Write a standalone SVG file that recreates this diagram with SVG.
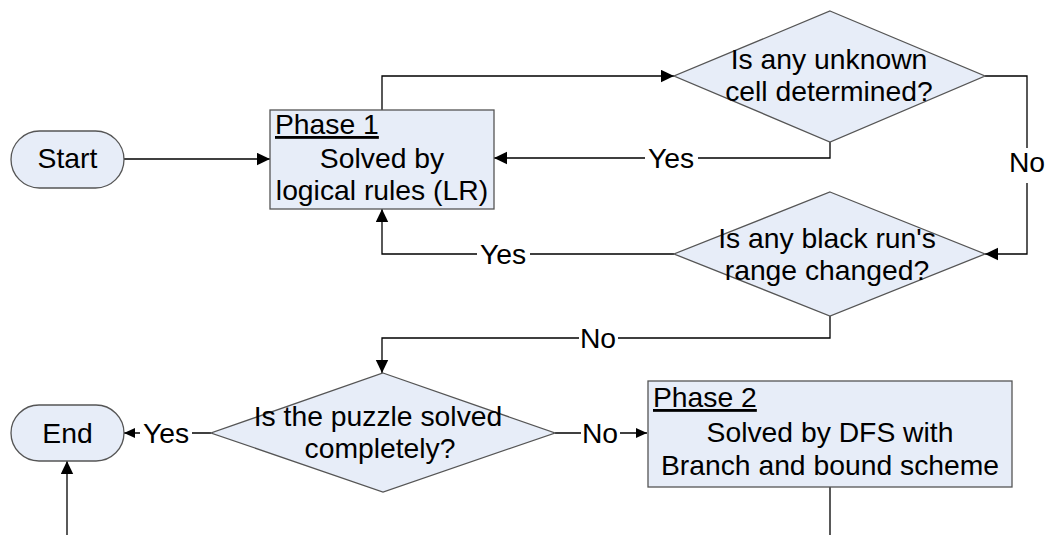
<svg xmlns="http://www.w3.org/2000/svg" width="1047" height="535" viewBox="0 0 1047 535">
<style>
.shape{fill:#e7edf8;stroke:#555;stroke-width:1.3}
.t{font-family:"Liberation Sans",Arial,sans-serif;font-size:28.3px;fill:#000}
.c{text-anchor:middle}
.u{text-decoration:underline}
.line{fill:none;stroke:#000;stroke-width:1.3}
.bg{fill:#fff;stroke:none}
</style>
<defs>
<marker id="arr" markerUnits="userSpaceOnUse" markerWidth="14" markerHeight="14" refX="13" refY="6.5" orient="auto">
<path d="M0,0.3 L13,6.5 L0,12.7 z" fill="#000"/>
</marker>
<marker id="arrs" markerUnits="userSpaceOnUse" markerWidth="12" markerHeight="11" refX="11" refY="5" orient="auto">
<path d="M0,0 L11,5 L0,10 z" fill="#000"/>
</marker>
</defs>
<rect width="1047" height="535" fill="#fff"/>
<g id="connectors">
<path class="line" d="M124,159 H270" marker-end="url(#arr)"/>
<path class="line" d="M382,110 V76 H674" marker-end="url(#arr)"/>
<path class="line" d="M830,142 V158 H494" marker-end="url(#arr)"/>
<path class="line" d="M985,76 H1027 V254 H985" marker-end="url(#arr)"/>
<path class="line" d="M674,254 H382 V209" marker-end="url(#arr)"/>
<path class="line" d="M830,316 V338 H382 V373" marker-end="url(#arr)"/>
<path class="line" d="M211,433 H124" marker-end="url(#arrs)"/>
<path class="line" d="M555,433 H647" marker-end="url(#arrs)"/>
<path class="line" d="M830,487 V535"/>
<path class="line" d="M67,535 V461" marker-end="url(#arr)"/>
<rect class="bg" x="645" y="144" width="53" height="28"/>
<text class="t c" x="671" y="168">Yes</text>
<rect class="bg" x="1011" y="148" width="34" height="35"/>
<text class="t c" x="1027" y="172">No</text>
<rect class="bg" x="477" y="240" width="53" height="28"/>
<text class="t c" x="503" y="264">Yes</text>
<rect class="bg" x="579" y="324" width="39" height="28"/>
<text class="t c" x="598" y="348">No</text>
<rect class="bg" x="140" y="419" width="52" height="28"/>
<text class="t c" x="166" y="443">Yes</text>
<rect class="bg" x="581" y="419" width="39" height="28"/>
<text class="t c" x="600" y="443">No</text>
</g>
<g id="start">
<rect class="shape" x="11" y="131" width="113" height="57" rx="28.5" ry="28.5"/>
<text class="t c" x="67.5" y="168">Start</text>
</g>
<g id="phase1">
<rect class="shape" x="270" y="110" width="224" height="99"/>
<text class="t u" x="275" y="134">Phase 1</text>
<text class="t c" x="382" y="168">Solved by</text>
<text class="t c" x="382" y="200">logical rules (LR)</text>
</g>
<g id="decision1">
<polygon class="shape" points="830,11 985,76 830,142 674,76"/>
<text class="t c" x="829" y="69">Is any unknown</text>
<text class="t c" x="829" y="101">cell determined?</text>
</g>
<g id="decision2">
<polygon class="shape" points="830,192 985,254 830,316 674,254"/>
<text class="t c" x="827" y="248">Is any black run's</text>
<text class="t c" x="827" y="280">range changed?</text>
</g>
<g id="decision3">
<polygon class="shape" points="383,373 555,433 383,492 211,433"/>
<text class="t c" x="378" y="426">Is the puzzle solved</text>
<text class="t c" x="380" y="458">completely?</text>
</g>
<g id="end">
<rect class="shape" x="11" y="405" width="113" height="56" rx="28" ry="28"/>
<text class="t c" x="67.5" y="443">End</text>
</g>
<g id="phase2">
<rect class="shape" x="648" y="381" width="364" height="106"/>
<text class="t u" x="653" y="407">Phase 2</text>
<text class="t c" x="830" y="442">Solved by DFS with</text>
<text class="t c" x="830" y="475">Branch and bound scheme</text>
</g>
</svg>
